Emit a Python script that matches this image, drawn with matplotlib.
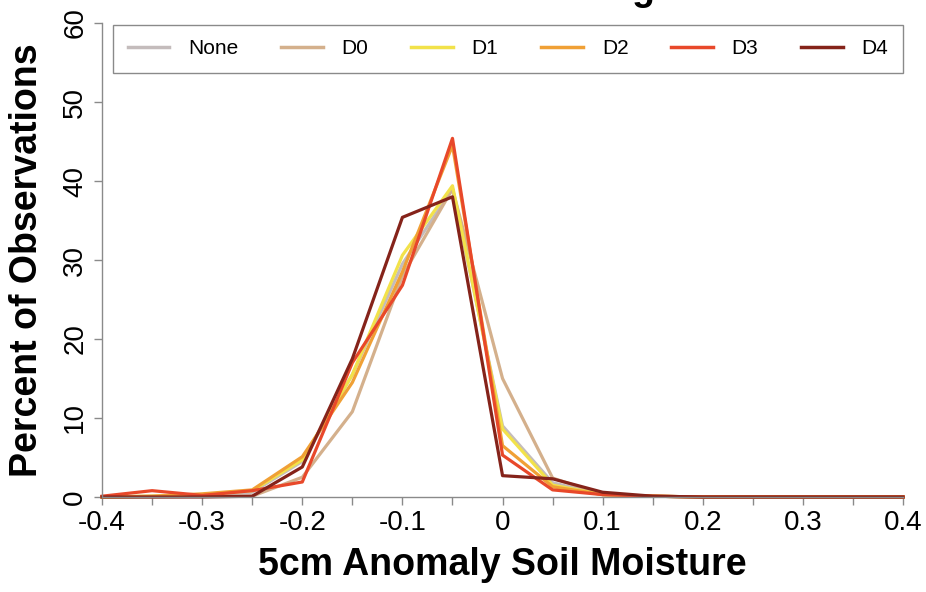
import matplotlib
matplotlib.use("Agg")
import matplotlib.pyplot as plt
import numpy as np

plt.rcParams['font.family'] = ['Liberation Sans', 'DejaVu Sans']

# soil moisture anomaly bins
x = [-0.4, -0.35, -0.3, -0.25, -0.2, -0.15, -0.1, -0.05, 0.0,
     0.05, 0.1, 0.15, 0.2, 0.25, 0.3, 0.35, 0.4]

# percent of observations per drought class
none_pct = [0.0, 0.1, 0.2, 0.6, 4.5, 15.5, 29.5, 39.0, 9.0, 1.8, 0.3, 0.1, 0, 0, 0, 0, 0]
d0_pct = [0.0, 0.0, 0.1, 0.1, 2.5, 10.8, 28.0, 39.0, 15.0, 2.4, 0.3, 0.1, 0, 0, 0, 0, 0]
d1_pct = [0.0, 0.1, 0.3, 0.8, 4.7, 15.5, 30.6, 39.4, 8.6, 1.5, 0.3, 0.1, 0, 0, 0, 0, 0]
d2_pct = [0.0, 0.1, 0.4, 0.9, 5.1, 14.5, 28.5, 44.5, 6.5, 1.3, 0.3, 0.1, 0, 0, 0, 0, 0]
d3_pct = [0.1, 0.8, 0.2, 0.8, 1.9, 17.0, 26.8, 45.4, 5.3, 0.9, 0.3, 0.1, 0, 0, 0, 0, 0]
d4_pct = [0.0, 0.0, 0.0, 0.1, 3.8, 17.5, 35.4, 38.0, 2.7, 2.3, 0.6, 0.1, 0, 0, 0, 0, 0]

series = [("None", none_pct, "#c4bcbc"),
          ("D0", d0_pct, "#d4b08c"),
          ("D1", d1_pct, "#f2e24a"),
          ("D2", d2_pct, "#f0a035"),
          ("D3", d3_pct, "#e8482a"),
          ("D4", d4_pct, "#85231a")]

fig = plt.figure(figsize=(9.26, 5.92), dpi=100)
ax = fig.add_axes([0.1102, 0.1605, 0.8650, 0.8006])

for name, vals, col in series:
    ax.plot(x, vals, color=col, lw=2.3, label=name, clip_on=False)

ax.set_xlim(-0.4, 0.4)
ax.set_ylim(0, 60)

for s in ['top', 'right']:
    ax.spines[s].set_visible(False)
for s in ['left', 'bottom']:
    ax.spines[s].set_color('#8a8a8a')
    ax.spines[s].set_linewidth(1.0)

ax.set_xticks(np.round(np.arange(-0.4, 0.41, 0.1), 2))
ax.set_xticklabels(['-0.4', '-0.3', '-0.2', '-0.1', '0', '0.1', '0.2', '0.3', '0.4'])
ax.set_xticks(np.round(np.arange(-0.35, 0.4, 0.1), 2), minor=True)
ax.set_yticks(range(0, 61, 10))
ax.tick_params(axis='both', which='both', direction='out', length=6,
               color='#8a8a8a', width=1.0, labelsize=20, labelcolor='black')
ax.tick_params(axis='y', pad=4)
for lab in ax.get_yticklabels():
    lab.set_rotation(90)
    lab.set_va('center')

ax.set_xlabel('5cm Anomaly Soil Moisture', fontsize=27, fontweight='bold', labelpad=8)
ax.set_ylabel('Percent of Observations', fontsize=27, fontweight='bold', labelpad=12)

leg = ax.legend(ncol=6, loc='lower left', mode='expand',
                bbox_to_anchor=(0.0137, 0.8945, 0.9863, 0.1055),
                borderaxespad=0, fancybox=False, edgecolor='#8a8a8a',
                fontsize=15, handlelength=2.0, handletextpad=0.9,
                borderpad=0.7, framealpha=1)
leg.get_frame().set_linewidth(1.0)
for h in leg.get_lines():
    h.set_linewidth(2.5)

# title, mostly cut off at the top edge
fig.text(0.746, 1.0, 'Distribution of Soil Moisture in Drought', ha='right',
         va='baseline', fontsize=27, fontweight='bold')

fig.savefig('out.png', dpi=100)
